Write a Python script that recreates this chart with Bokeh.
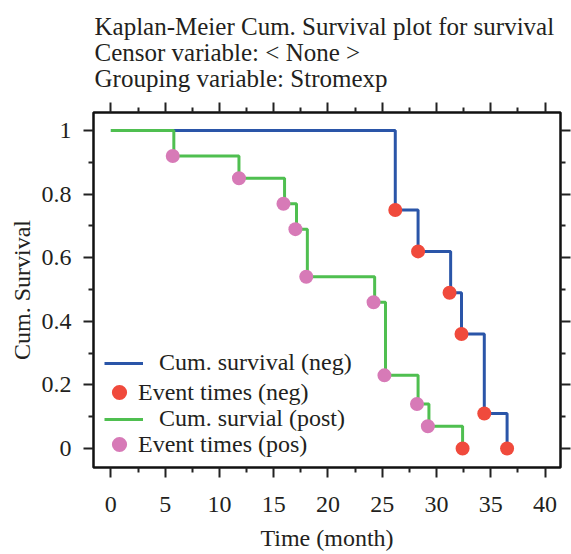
from bokeh.plotting import figure
from bokeh.models import (Range1d, LinearAxis, FixedTicker, Legend, LegendItem,
                          CustomLabelingPolicy)
from bokeh.embed import file_html
from bokeh.resources import INLINE

# ---- data ----
title_lines = ["Kaplan-Meier Cum. Survival plot for survival",
               "Censor variable: < None >",
               "Grouping variable: Stromexp"]
x_label = "Time (month)"
y_label = "Cum. Survival"
x_ticks = [0, 5, 10, 15, 20, 25, 30, 35, 40]
x_minor = [2.5, 7.5, 12.5, 17.5, 22.5, 27.5, 32.5, 37.5]
y_ticks = [0, 0.2, 0.4, 0.6, 0.8, 1]
y_minor = [0.1, 0.3, 0.5, 0.7, 0.9]

neg_time = [0, 26.2, 28.3, 31.3, 32.3, 34.4, 36.5]
neg_surv = [1, 0.75, 0.62, 0.49, 0.36, 0.11, 0]
pos_time = [0, 5.8, 11.8, 16.0, 17.1, 18.1, 24.3, 25.3, 28.3, 29.3, 32.4]
pos_surv = [1, 0.92, 0.85, 0.77, 0.69, 0.54, 0.46, 0.23, 0.14, 0.07, 0]

neg_event_time = [26.2, 28.3, 31.2, 32.3, 34.4, 36.5, 32.4]
neg_event_surv = [0.75, 0.62, 0.49, 0.36, 0.11, 0, 0]
pos_event_time = [5.7, 11.8, 15.9, 17.0, 18.0, 24.2, 25.2, 28.2, 29.2]
pos_event_surv = [0.92, 0.85, 0.77, 0.69, 0.54, 0.46, 0.23, 0.14, 0.07]

legend_labels = ["Cum. survival (neg)", "Event times (neg)",
                 "Cum. survial (post)", "Event times (pos)"]

BLUE = "#2a55a8"
GREEN = "#4fbf50"
RED = "#f04a3c"
PINK = "#d77ab7"
FONT = "Liberation Serif"
TXT = "#231f20"

p = figure(x_range=Range1d(-1.6, 41.42), y_range=Range1d(-0.06, 1.057),
           width=571, height=554,
           min_border_left=93, min_border_right=11,
           min_border_top=112, min_border_bottom=87,
           x_axis_location=None, y_axis_location=None,
           output_backend="svg", toolbar_location=None,
           background_fill_color="white", border_fill_color="white")
p.xgrid.visible = False
p.ygrid.visible = False
p.outline_line_color = "#111111"
p.outline_line_width = 2.5
p.outline_line_alpha = 1

p.title.text = "\n".join(title_lines)
p.title.text_font = FONT
p.title.text_font_size = "25px"
p.title.text_font_style = "normal"
p.title.text_color = TXT
p.title.align = "left"
p.title.text_line_height = 0.98
p.title.offset = 1
p.title.standoff = 20

hide_all = CustomLabelingPolicy(code="""
    const n = indices.size
    for (let i = 0; i < n; i++) indices.unset(i)
    return indices
""")


def make_axis(ticks, minor, labels):
    ax = LinearAxis(ticker=FixedTicker(ticks=ticks, minor_ticks=minor))
    ax.axis_line_color = None
    ax.major_tick_out = 10
    ax.major_tick_in = 0
    ax.minor_tick_out = 5
    ax.minor_tick_in = 0
    ax.major_tick_line_width = 2
    ax.minor_tick_line_width = 2
    ax.major_tick_line_color = "#222222"
    ax.minor_tick_line_color = "#222222"
    if labels:
        ax.major_label_text_font = FONT
        ax.major_label_text_font_size = "24px"
        ax.major_label_text_color = TXT
    else:
        ax.major_label_policy = hide_all
        ax.major_label_text_font_size = "0px"
        ax.major_label_standoff = 0
        ax.axis_label = None
    return ax


left = make_axis(y_ticks, y_minor, True)
left.major_label_overrides = {0: "0", 1: "1"}
left.major_label_standoff = 12
left.axis_label = y_label
left.axis_label_text_font = FONT
left.axis_label_text_font_size = "24px"
left.axis_label_text_font_style = "normal"
left.axis_label_text_color = TXT
left.axis_label_standoff = 4
p.add_layout(left, "left")

bottom = make_axis(x_ticks, x_minor, True)
bottom.major_label_standoff = 19
bottom.axis_label = x_label
bottom.axis_label_text_font = FONT
bottom.axis_label_text_font_size = "24px"
bottom.axis_label_text_font_style = "normal"
bottom.axis_label_text_color = TXT
bottom.axis_label_standoff = 10
p.add_layout(bottom, "below")

right = make_axis(y_ticks, y_minor, False)
p.add_layout(right, "right")
top = make_axis(x_ticks, x_minor, False)
p.add_layout(top, "above")

r_neg = p.step(neg_time, neg_surv, mode="after", line_color=BLUE, line_width=3)
r_pos = p.step(pos_time, pos_surv, mode="after", line_color=GREEN, line_width=3)
r_neg_pts = p.scatter(neg_event_time, neg_event_surv, size=14,
                      fill_color=RED, line_color=None)
r_pos_pts = p.scatter(pos_event_time, pos_event_surv, size=14,
                      fill_color=PINK, line_color=None)


def style_legend(leg):
    leg.label_text_font = FONT
    leg.label_text_font_size = "24px"
    leg.label_text_color = TXT
    leg.background_fill_alpha = 0
    leg.border_line_alpha = 0
    leg.padding = 0
    leg.margin = 0


leg_lines = Legend(items=[LegendItem(label=legend_labels[0], renderers=[r_neg]),
                          LegendItem(label=legend_labels[2], renderers=[r_pos])],
                   location=(11, 35), glyph_width=39, glyph_height=20,
                   label_standoff=16, spacing=29, label_height=20)
style_legend(leg_lines)
leg_pts = Legend(items=[LegendItem(label=legend_labels[1], renderers=[r_neg_pts]),
                        LegendItem(label=legend_labels[3], renderers=[r_pos_pts])],
                 location=(7, 4), glyph_width=38, glyph_height=38,
                 label_standoff=0, spacing=14, label_height=20)
style_legend(leg_pts)
p.add_layout(leg_lines)
p.add_layout(leg_pts)

open("out.html", "w").write(file_html(p, INLINE))
